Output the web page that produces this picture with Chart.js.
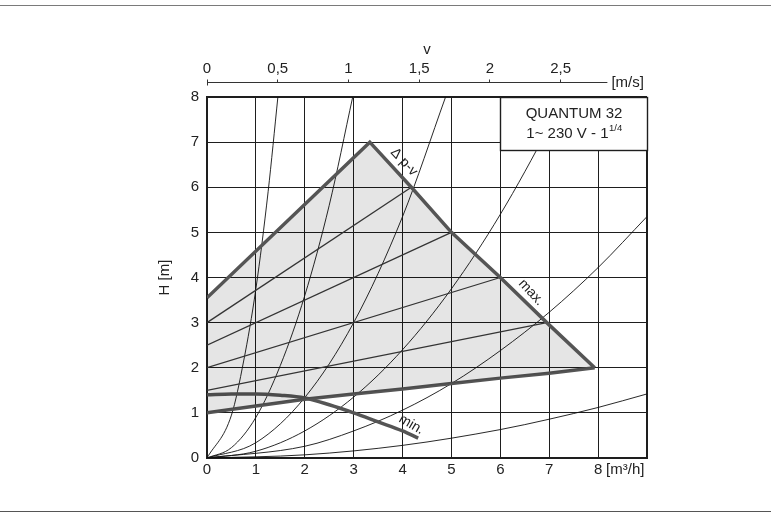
<!DOCTYPE html>
<html>
<head>
<meta charset="utf-8">
<script src="https://cdn.jsdelivr.net/npm/chart.js@4.4.1/dist/chart.umd.min.js"></script>
<style>
  html, body { margin: 0; padding: 0; background: #fff; }
  #wrap { position: relative; width: 771px; height: 513px; overflow: hidden; }
  .rule { position: absolute; left: 0; width: 771px; height: 0; }
  #ruleTop { top: 5px; border-top: 1px solid #7a7a7a; }
  #ruleBottom { top: 511px; border-top: 1px solid #555; }
  canvas { position: absolute; left: 0; top: 0; }
</style>
</head>
<body>
<div id="wrap">
  <div class="rule" id="ruleTop"></div>
  <div class="rule" id="ruleBottom"></div>
  <canvas id="chart" width="771" height="513"></canvas>
</div>
<script>
// axis ranges
const FLOW_MAX = 9        // m³/h at the right edge of the grid
const HEAD_MAX = 8        // m
const SPEED_MAX = 3.11    // m/s that lines up with 9 m³/h
const SPEED_AXIS_END = 2.83

// tick values and labels
const flowTicks = [0, 1, 2, 3, 4, 5, 6, 7, 8, 9]
const flowLabels = ["0", "1", "2", "3", "4", "5", "6", "7", "8", ""]
const headTicks = [0, 1, 2, 3, 4, 5, 6, 7, 8]
const headLabels = ["0", "1", "2", "3", "4", "5", "6", "7", "8"]
const speedTicks = [0, 0.5, 1, 1.5, 2, 2.5]
const speedLabels = ["0", "0,5", "1", "1,5", "2", "2,5"]

// max curve (Δp-v envelope)
const maxFlow = [0, 3.33, 4.18, 5, 6, 6.95, 7.93]
const maxHead = [3.55, 7.0, 6.0, 5.0, 4.0, 3.0, 2.0]

// lower Δp-v line
const baseFlow = [0, 1, 2, 3, 4, 5, 6, 7, 7.93]
const baseHead = [1.0, 1.15, 1.3, 1.42, 1.53, 1.65, 1.77, 1.88, 2.0]

// min curve
const minFlow = [0, 0.5, 1, 1.5, 2, 2.5, 3, 3.5, 4, 4.32]
const minHead = [1.40, 1.42, 1.42, 1.39, 1.33, 1.18, 1.0, 0.8, 0.6, 0.44]

// Δp-v control lines
const dpvStartHead = [3.0, 2.5, 2.0, 1.5]
const dpvEndFlow = [4.18, 5, 6, 6.95]
const dpvEndHead = [6.0, 5.0, 4.0, 3.0]

// system curves
const sys1Flow = [0, 0.5, 0.75, 1, 1.25, 1.45]
const sys1Head = [0, 0.95, 2.15, 3.75, 5.9, 8.0]
const sys2Flow = [0, 0.5, 1, 1.5, 2, 2.5, 2.98]
const sys2Head = [0, 0.23, 0.9, 2.05, 3.6, 5.6, 8.0]
const sys3Flow = [0, 1, 2, 3, 4, 4.88]
const sys3Head = [0, 0.34, 1.34, 3.0, 5.35, 8.0]
const sys4Flow = [0, 1, 2, 3, 4, 5, 6, 7, 7.3]
const sys4Head = [0, 0.15, 0.6, 1.35, 2.4, 3.75, 5.4, 7.35, 8.0]
const sys5Flow = [0, 2, 3, 4, 5, 6, 7, 8, 9]
const sys5Head = [0, 0.26, 0.6, 1.06, 1.65, 2.38, 3.23, 4.22, 5.35]
const sys6Flow = [0, 2, 4, 6, 7, 8, 9]
const sys6Head = [0, 0.07, 0.28, 0.63, 0.86, 1.12, 1.42]

const GRID = "#1e1e1e"
const TEXT = "#222"
const THICK = "#555"
const FONT = "'Liberation Sans', Arial, Helvetica, sans-serif"

Chart.defaults.font.family = FONT
Chart.defaults.font.size = 15
Chart.defaults.color = TEXT

const pts = (flow, head) => flow.map((x, i) => ({ x, y: head[i] }))

const thick = { borderColor: THICK, borderWidth: 3.5, pointRadius: 0, tension: 0 }
const thin = { borderColor: "#111", borderWidth: 0.9, pointRadius: 0, cubicInterpolationMode: "monotone" }
const control = { borderColor: "#3a3a3a", borderWidth: 1.3, pointRadius: 0, tension: 0 }

const datasets = [
  { ...thick, data: pts(maxFlow, maxHead), fill: "+1", backgroundColor: "rgba(0, 0, 0, 0.1)" },
  { ...thick, data: pts(baseFlow, baseHead), fill: false },
  { ...thick, data: pts(minFlow, minHead), fill: false, cubicInterpolationMode: "monotone" },
  ...dpvStartHead.map((h, i) => ({ ...control, fill: false, data: [{ x: 0, y: h }, { x: dpvEndFlow[i], y: dpvEndHead[i] }] })),
  ...[[sys1Flow, sys1Head], [sys2Flow, sys2Head], [sys3Flow, sys3Head],
      [sys4Flow, sys4Head], [sys5Flow, sys5Head], [sys6Flow, sys6Head]]
    .map(([f, h]) => ({ ...thin, fill: false, data: pts(f, h) }))
]

const align = (p) => Math.round(p - 0.5) + 0.5

// frame lines (top and right edge) a bit heavier than the inner grid
const frameWidth = (max) => (c) => (c.tick && c.tick.value === max ? 2 : 1)

const overlay = {
  id: "overlay",
  afterDatasetsDraw(chart) {
    const { ctx } = chart
    const { x, y, x2 } = chart.scales
    ctx.save()

    // name plate in the top right corner
    const bx0 = align(x.getPixelForValue(6))
    const bx1 = align(x.getPixelForValue(FLOW_MAX))
    const by0 = align(y.getPixelForValue(HEAD_MAX))
    const by1 = align(y.getPixelForValue(6.82))
    ctx.fillStyle = "#fff"
    ctx.fillRect(bx0, by0, bx1 - bx0, by1 - by0)
    ctx.strokeStyle = GRID
    ctx.lineWidth = 1.4
    ctx.strokeRect(bx0, by0, bx1 - bx0, by1 - by0)

    const cx = (bx0 + bx1) / 2
    ctx.fillStyle = TEXT
    ctx.textBaseline = "middle"
    ctx.textAlign = "center"
    ctx.font = "15px " + FONT
    ctx.fillText("QUANTUM 32", cx, by0 + 16)
    const main = "1~ 230 V - 1"
    const sup = "1/4"
    const w1 = ctx.measureText(main).width
    ctx.font = "9.5px " + FONT
    const w2 = ctx.measureText(sup).width
    const sx = cx - (w1 + w2) / 2
    ctx.textAlign = "left"
    ctx.font = "15px " + FONT
    ctx.fillText(main, sx, by0 + 36)
    ctx.font = "9.5px " + FONT
    ctx.fillText(sup, sx + w1 + 0.5, by0 + 31)

    // top speed axis line with small ticks
    const yv = align(x2.bottom - 15)
    const vx0 = x2.getPixelForValue(0)
    const vx1 = x2.getPixelForValue(SPEED_AXIS_END)
    ctx.strokeStyle = "#333"
    ctx.lineWidth = 1
    ctx.beginPath()
    ctx.moveTo(vx0, yv)
    ctx.lineTo(vx1, yv)
    speedTicks.forEach(v => {
      const px = align(x2.getPixelForValue(v))
      ctx.moveTo(px, yv - 3)
      ctx.lineTo(px, v === 0 ? yv + 3 : yv)
    })
    ctx.stroke()

    ctx.fillStyle = TEXT
    ctx.font = "15px " + FONT
    ctx.textAlign = "left"
    ctx.textBaseline = "middle"
    ctx.fillText("[m/s]", vx1 + 4, yv)
    ctx.fillText("[m³/h]", x.getPixelForValue(8) + 8, x.top + 12)

    // curve names
    const rot = (text, fx, hy, deg) => {
      ctx.save()
      ctx.translate(x.getPixelForValue(fx), y.getPixelForValue(hy))
      ctx.rotate(deg * Math.PI / 180)
      ctx.textAlign = "center"
      ctx.textBaseline = "middle"
      ctx.font = "14px " + FONT
      ctx.fillStyle = TEXT
      ctx.fillText(text, 0, 0)
      ctx.restore()
    }
    rot("Δ p-v", 4.03, 6.56, 47)
    rot("max.", 6.63, 3.67, 47)
    rot("min.", 4.18, 0.74, 30)

    ctx.restore()
  }
}

new Chart(document.getElementById("chart"), {
  type: "line",
  data: { datasets },
  plugins: [overlay],
  options: {
    responsive: false,
    animation: false,
    layout: { padding: { top: 37, left: 152, right: 124, bottom: 0 } },
    plugins: { legend: { display: false }, tooltip: { enabled: false } },
    scales: {
      x: {
        type: "linear", min: 0, max: FLOW_MAX,
        afterBuildTicks: s => { s.ticks = flowTicks.map(value => ({ value })) },
        afterFit: s => { s.height = 55 },
        grid: { color: GRID, lineWidth: frameWidth(FLOW_MAX), drawTicks: false },
        border: { color: GRID, width: 2 },
        ticks: { padding: 3, autoSkip: false, maxRotation: 0, callback: (v, i) => flowLabels[i] }
      },
      x2: {
        type: "linear", position: "top", min: 0, max: SPEED_MAX,
        afterBuildTicks: s => { s.ticks = speedTicks.map(value => ({ value })) },
        afterFit: s => { s.height = 60 },
        grid: { display: false, drawTicks: false },
        border: { display: false },
        ticks: { padding: 19, autoSkip: false, maxRotation: 0, callback: (v, i) => speedLabels[i] },
        title: { display: true, text: "v", padding: { top: 4, bottom: 0 } }
      },
      y: {
        type: "linear", min: 0, max: HEAD_MAX,
        afterBuildTicks: s => { s.ticks = headTicks.map(value => ({ value })) },
        afterFit: s => { s.width = 55 },
        grid: { color: GRID, lineWidth: frameWidth(HEAD_MAX), drawTicks: false },
        border: { color: GRID, width: 2 },
        ticks: { padding: 8, callback: (v, i) => headLabels[i] },
        title: { display: true, text: "H [m]", padding: { top: 4, bottom: 4 } }
      }
    }
  }
})
</script>
</body>
</html>
